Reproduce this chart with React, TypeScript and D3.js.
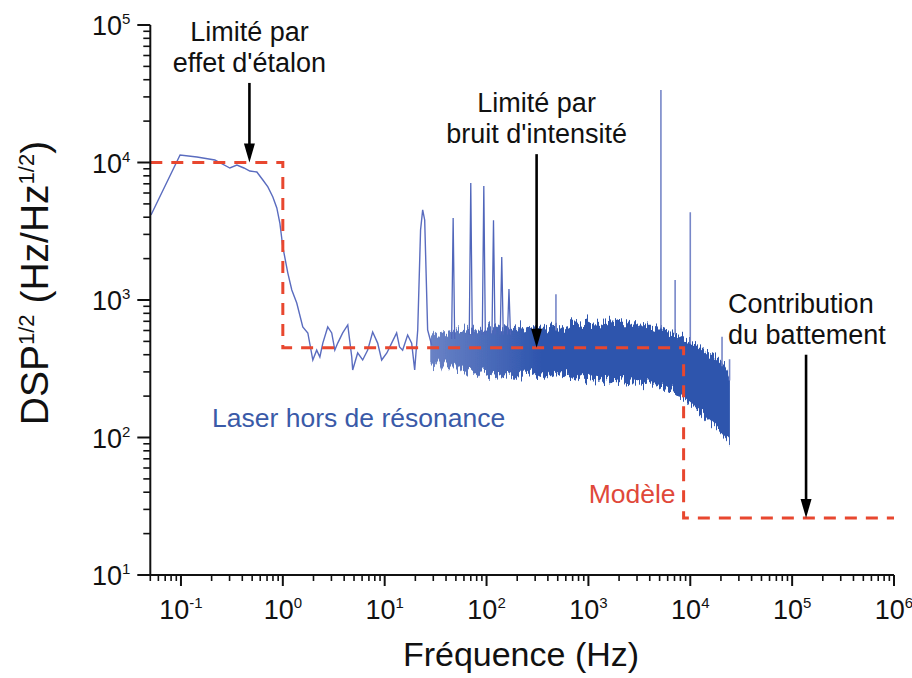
import React from 'react';
import * as d3 from 'd3';

// ---------- data ----------
// Low-frequency part of the measured spectrum (Hz, Hz/Hz^1/2)
const lowFreq = [
  0.0508, 0.098, 0.1435, 0.215, 0.302, 0.354, 0.415, 0.474, 0.556, 0.637,
  0.713, 0.798, 0.873, 0.935, 1.0, 1.12, 1.225, 1.37, 1.57, 1.76,
  1.97, 2.15, 2.31, 2.47, 2.76, 3.02, 3.24, 3.46, 3.87, 4.34,
  4.75, 4.85, 5.43, 6.08, 6.81, 7.62, 8.53, 9.34, 10.5, 11.7,
  13.1, 14.0, 15.0, 16.8, 18.4, 19.7, 21.1, 22.5, 23.6, 24.7,
  26.4, 28.9,
];
const lowVal = [
  4150, 11350, 10960, 10430, 9120, 9590, 9120, 8670, 8530, 7460,
  6640, 5610, 4670, 3630, 2430, 1570, 1183, 951, 637, 576,
  366, 432, 385, 486, 637, 576, 432, 486, 576, 658,
  385, 310, 412, 366, 432, 585, 486, 366, 412, 486,
  576, 455, 432, 556, 486, 310, 605, 3230, 4520, 3820,
  605, 471,
];

// Dense noisy band (upper / lower envelope)
const bandFreq = [
  28, 31, 34, 37, 40, 44, 48, 52, 57, 62,
  68, 75, 82, 90, 98, 108, 118, 130, 142, 156,
  170, 186, 204, 224, 245, 268, 294, 322, 353, 387,
  424, 465, 510, 560, 613, 672, 737, 808, 886, 971,
  1065, 1167, 1280, 1403, 1538, 1686, 1849, 2027, 2222, 2436,
  2671, 2928, 3210, 3519, 3858, 4230, 4637, 5084, 5574, 6111,
  6700, 7345, 8053, 8829, 9680, 10612, 11634, 12755, 13984, 15331,
  16808, 18427, 20203, 22149, 24500,
];
const bandUpper = [
  520, 570, 540, 590, 560, 610, 570, 600, 560, 610,
  580, 620, 580, 620, 590, 640, 600, 630, 610, 650,
  620, 640, 620, 660, 630, 650, 630, 640, 620, 650,
  630, 660, 640, 670, 650, 680, 660, 680, 670, 700,
  680, 690, 680, 710, 690, 700, 690, 710, 690, 690,
  670, 680, 660, 670, 650, 650, 630, 630, 610, 600,
  580, 570, 550, 530, 510, 490, 470, 450, 430, 415,
  400, 380, 355, 325, 280,
];
const bandLower = [
  360, 330, 370, 320, 350, 310, 340, 300, 330, 295,
  320, 300, 285, 310, 290, 275, 300, 285, 295, 275,
  295, 280, 290, 275, 295, 280, 290, 275, 285, 270,
  290, 280, 285, 270, 285, 275, 280, 265, 275, 265,
  270, 260, 270, 255, 262, 250, 258, 252, 258, 248,
  252, 250, 255, 243, 248, 238, 240, 230, 230, 220,
  215, 205, 200, 192, 182, 172, 162, 152, 142, 134,
  126, 117, 108, 99, 92,
];

// Spurious peaks
const spikeFreq = [47, 70, 94, 117, 141, 166, 480, 5150, 7100, 10000, 20500, 24300];
const spikeTop = [3950, 7100, 6750, 3800, 2050, 1200, 1100, 33700, 1400, 4350, 540, 370];
const spikeBase = [520, 560, 560, 560, 560, 560, 600, 620, 560, 480, 330, 260];
const spikeWide = [true, true, true, true, true, true, false, false, false, false, false, false];

// Model (step function)
const modelFreq = [0.05, 1, 1, 8600, 8600, 1e6];
const modelVal = [1e4, 1e4, 450, 450, 26, 26];

// Axis ticks (exponents)
const xTickExp = [-1, 0, 1, 2, 3, 4, 5, 6];
const yTickExp = [1, 2, 3, 4, 5];

// Annotations: arrow x (Hz), arrow start & tip values
const annFreq = [0.47, 310, 137000];
const annFrom = [37900, 11500, 400];
const annTo = [1e4, 450, 26];
const annLines = [
  ['Limité par', "effet d'étalon"],
  ['Limité par', "bruit d'intensité"],
  ['Contribution', 'du battement'],
];

const FONT = "'Liberation Sans', Arial, Helvetica, sans-serif";
const W = 912;
const H = 678;

export default function App() {
  const x = d3.scaleLog().domain([0.05, 1e6]).range([150.3, 894]);
  const y = d3.scaleLog().domain([10, 1e5]).range([575, 25]);

  const line = d3
    .line<number>()
    .x((i) => x(lowFreq[i]))
    .y((i) => y(lowVal[i]));
  const lowPath = line(lowFreq.map((_, i) => i)) || '';

  const area = d3
    .area<number>()
    .x((i) => x(bandFreq[i]))
    .y0((i) => y(bandLower[i]))
    .y1((i) => y(bandUpper[i]));
  const bandPath = area(bandFreq.map((_, i) => i)) || '';

  const modelLine = d3
    .line<number>()
    .x((i) => x(modelFreq[i]))
    .y((i) => y(modelVal[i]));
  const modelPath = modelLine(modelFreq.map((_, i) => i)) || '';

  const isDecade = (v: number) => Math.abs(Math.log10(v) - Math.round(Math.log10(v))) < 1e-6;
  const xMinor = x.ticks(20).filter((t) => !isDecade(t));
  const yMinor = y.ticks(20).filter((t) => !isDecade(t));

  const axisColor = '#111';
  const x0 = x.range()[0];
  const y0 = y.range()[0];

  return (
    <svg
      width={W}
      height={H}
      style={{ position: 'absolute', left: 0, top: 0, background: '#fff' }}
      fontFamily={FONT}
    >
      <defs>
        <linearGradient id="bandGrad" gradientUnits="userSpaceOnUse" x1={x(28)} x2={x(350)} y1={0} y2={0}>
          <stop offset="0" stopColor="#3f5fb5" stopOpacity={0.78} />
          <stop offset="1" stopColor="#2d54ad" stopOpacity={1} />
        </linearGradient>
        <filter id="jitter" x="-2%" y="-30%" width="104%" height="160%">
          <feTurbulence type="fractalNoise" baseFrequency="0.65 0.02" numOctaves={2} seed={7} result="t" />
          <feColorMatrix
            in="t"
            type="matrix"
            values="0 0 0 0 0.5  0 1 0 0 0  0 0 1 0 0  0 0 0 0 1"
            result="t2"
          />
          <feDisplacementMap in="SourceGraphic" in2="t2" scale={22} xChannelSelector="R" yChannelSelector="G" />
        </filter>
      </defs>
      <rect width={W} height={H} fill="#fff" />

      {/* spectrum */}
      <g filter="url(#jitter)">
        <path d={bandPath} fill="url(#bandGrad)" stroke="none" />
      </g>
      <path d={lowPath} fill="none" stroke="#5a6cbf" strokeWidth={1.4} />
      {spikeFreq.map((f, i) => {
        const w = spikeWide[i] ? 1.035 : 1.0;
        const d = `M${x(f / w)},${y(spikeBase[i])}L${x(f)},${y(spikeTop[i])}L${x(f * w)},${y(spikeBase[i])}`;
        return (
          <path
            key={i}
            d={d}
            fill="none"
            stroke={spikeWide[i] ? '#5066bb' : '#7787c8'}
            strokeWidth={spikeWide[i] ? 1.3 : 1.6}
          />
        );
      })}

      {/* model */}
      <path d={modelPath} fill="none" stroke="#e8472f" strokeWidth={3} strokeDasharray="12 9" />

      {/* axes */}
      <line x1={x0} x2={x.range()[1]} y1={y0} y2={y0} stroke={axisColor} strokeWidth={2} />
      <line x1={x0} x2={x0} y1={y0} y2={y.range()[1]} stroke={axisColor} strokeWidth={2} />
      {xMinor.map((t, i) => (
        <line key={'xm' + i} x1={x(t)} x2={x(t)} y1={y0} y2={y0 + 6} stroke={axisColor} strokeWidth={1.6} />
      ))}
      {xTickExp.map((e) => (
        <g key={'xt' + e}>
          <line x1={x(Math.pow(10, e))} x2={x(Math.pow(10, e))} y1={y0} y2={y0 + 11} stroke={axisColor} strokeWidth={2} />
          <text x={x(Math.pow(10, e))} y={619} textAnchor="middle" fontSize={27} fill="#111">
            10
            <tspan dy={-11} fontSize={15}>
              {e}
            </tspan>
          </text>
        </g>
      ))}
      {yMinor.map((t, i) => (
        <line key={'ym' + i} x1={x0 - 7} x2={x0} y1={y(t)} y2={y(t)} stroke={axisColor} strokeWidth={1.6} />
      ))}
      {yTickExp.map((e) => (
        <g key={'yt' + e}>
          <line x1={x0 - 13} x2={x0} y1={y(Math.pow(10, e))} y2={y(Math.pow(10, e))} stroke={axisColor} strokeWidth={2} />
          <text x={x0 - 20} y={y(Math.pow(10, e)) + 10} textAnchor="end" fontSize={27} fill="#111">
            10
            <tspan dy={-11} fontSize={15}>
              {e}
            </tspan>
          </text>
        </g>
      ))}

      {/* axis titles */}
      <text x={521} y={666} textAnchor="middle" fontSize={34} fill="#111">
        Fréquence (Hz)
      </text>
      <text transform="translate(48,283) rotate(-90)" textAnchor="middle" fontSize={39} fill="#111">
        DSP
        <tspan dy={-14} fontSize={22}>
          1/2
        </tspan>
        <tspan dy={14}> (Hz/Hz</tspan>
        <tspan dy={-14} fontSize={22}>
          1/2
        </tspan>
        <tspan dy={14}>)</tspan>
      </text>

      {/* annotations */}
      {annFreq.map((f, i) => {
        const ax = x(f);
        const ys = y(annFrom[i]);
        const yt = y(annTo[i]);
        const left = i === 2;
        const tx = left ? ax - 78 : ax;
        return (
          <g key={'ann' + i}>
            <line x1={ax} x2={ax} y1={ys} y2={yt - 16} stroke="#000" strokeWidth={2.6} />
            <path d={`M${ax - 5.5},${yt - 19}L${ax + 5.5},${yt - 19}L${ax},${yt}Z`} fill="#000" />
            <text x={tx} y={ys - 42} textAnchor={left ? 'start' : 'middle'} fontSize={27} fill="#111">
              {annLines[i][0]}
            </text>
            <text x={tx} y={ys - 11} textAnchor={left ? 'start' : 'middle'} fontSize={27} fill="#111">
              {annLines[i][1]}
            </text>
          </g>
        );
      })}

      <text x={212} y={427} fontSize={26.5} fill="#3a5aa8">
        Laser hors de résonance
      </text>
      <text x={x(8600) - 8} y={y(26) - 15} textAnchor="end" fontSize={26.5} fill="#e0483a">
        Modèle
      </text>
    </svg>
  );
}
